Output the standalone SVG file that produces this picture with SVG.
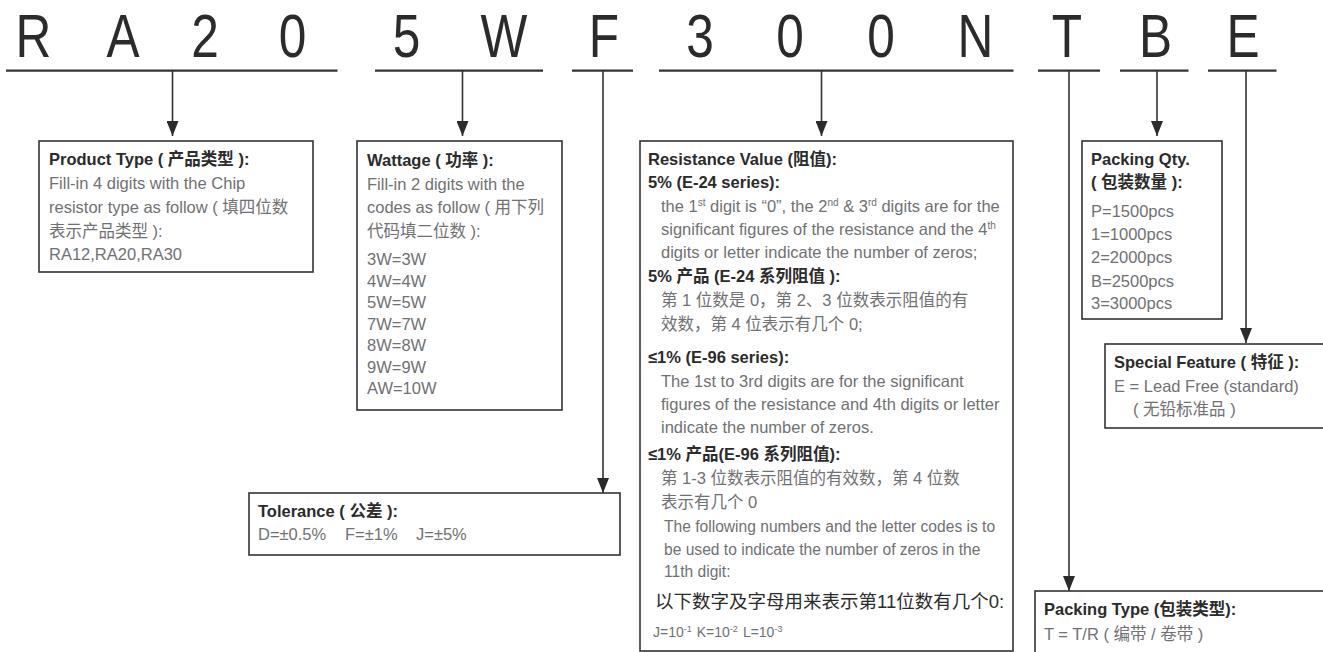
<svg xmlns="http://www.w3.org/2000/svg" width="1323" height="652" viewBox="0 0 1323 652">
<style>
.big{font-family:"Liberation Sans",sans-serif;font-size:62px;fill:#2b2b2b;text-anchor:middle}
.h{font-family:"Liberation Sans","Noto Sans CJK SC",sans-serif;font-size:16.5px;font-weight:bold;fill:#2b2b2b}
.b{font-family:"Liberation Sans","Noto Sans CJK SC",sans-serif;font-size:16.5px;fill:#707173}
.f{font-family:"Liberation Sans","Noto Sans CJK SC",sans-serif;font-size:15.6px;fill:#707173}
.d{font-family:"Liberation Sans","Noto Sans CJK SC",sans-serif;font-size:18.5px;fill:#2b2b2b}
.s{font-family:"Liberation Sans","Noto Sans CJK SC",sans-serif;font-size:14px;fill:#707173}
.box{fill:#fff;stroke:#333;stroke-width:1.6}
.ul{stroke:#333;stroke-width:2.2;fill:none}
.dr{stroke:#333;stroke-width:1.6;fill:none;marker-end:url(#ah)}
</style>
<defs>
<marker id="ah" viewBox="0 0 15 12" refX="15" refY="6" markerWidth="15" markerHeight="12" markerUnits="userSpaceOnUse" orient="auto">
<path d="M0,0 L15,6 L0,12 Z" fill="#2b2b2b"/>
</marker>
</defs>
<rect width="1323" height="652" fill="#fff"/>
<g id="code">
<text class="big" transform="translate(33.5,57.3) scale(0.8,1)">R</text>
<text class="big" transform="translate(123,57.3) scale(0.8,1)">A</text>
<text class="big" transform="translate(205,57.3) scale(0.8,1)">2</text>
<text class="big" transform="translate(292.5,57.3) scale(0.8,1)">0</text>
<text class="big" transform="translate(406.5,57.3) scale(0.8,1)">5</text>
<text class="big" transform="translate(504,57.3) scale(0.8,1)">W</text>
<text class="big" transform="translate(604,57.3) scale(0.8,1)">F</text>
<text class="big" transform="translate(700,57.3) scale(0.8,1)">3</text>
<text class="big" transform="translate(790,57.3) scale(0.8,1)">0</text>
<text class="big" transform="translate(881,57.3) scale(0.8,1)">0</text>
<text class="big" transform="translate(975.5,57.3) scale(0.8,1)">N</text>
<text class="big" transform="translate(1067,57.3) scale(0.8,1)">T</text>
<text class="big" transform="translate(1155.5,57.3) scale(0.8,1)">B</text>
<text class="big" transform="translate(1243,57.3) scale(0.8,1)">E</text>
</g>
<g id="connectors">
<line class="ul" x1="6" y1="70.7" x2="337.5" y2="70.7"/>
<line class="ul" x1="375" y1="70.7" x2="543" y2="70.7"/>
<line class="ul" x1="572" y1="70.7" x2="633" y2="70.7"/>
<line class="ul" x1="659" y1="70.7" x2="1013.5" y2="70.7"/>
<line class="ul" x1="1038" y1="70.7" x2="1100" y2="70.7"/>
<line class="ul" x1="1120" y1="70.7" x2="1188.5" y2="70.7"/>
<line class="ul" x1="1208" y1="70.7" x2="1276.5" y2="70.7"/>
<line class="dr" x1="172.5" y1="70.7" x2="172.5" y2="136"/>
<line class="dr" x1="462.5" y1="70.7" x2="462.5" y2="136"/>
<line class="dr" x1="603" y1="70.7" x2="603" y2="493"/>
<line class="dr" x1="821.5" y1="70.7" x2="821.5" y2="136"/>
<line class="dr" x1="1069" y1="70.7" x2="1069" y2="591"/>
<line class="dr" x1="1157" y1="70.7" x2="1157" y2="136"/>
<line class="dr" x1="1246" y1="70.7" x2="1246" y2="343"/>
</g>
<g id="product-type">
<rect class="box" x="39" y="141" width="274" height="131"/>
<text class="h" x="49" y="165">Product Type ( 产品类型 ):</text>
<text class="b" x="49" y="189">Fill-in 4 digits with the Chip</text>
<text class="b" x="49" y="212.5">resistor type as follow ( 填四位数</text>
<text class="b" x="49" y="236.5">表示产品类型 ):</text>
<text class="b" x="49" y="260">RA12,RA20,RA30</text>
</g>
<g id="wattage">
<rect class="box" x="357" y="141" width="205" height="269"/>
<text class="h" x="367" y="166">Wattage ( 功率 ):</text>
<text class="b" x="367" y="190">Fill-in 2 digits with the</text>
<text class="b" x="367" y="213">codes as follow ( 用下列</text>
<text class="b" x="367" y="237">代码填二位数 ):</text>
<text class="b" x="367" y="265">3W=3W</text>
<text class="b" x="367" y="286.5">4W=4W</text>
<text class="b" x="367" y="308">5W=5W</text>
<text class="b" x="367" y="329.5">7W=7W</text>
<text class="b" x="367" y="351">8W=8W</text>
<text class="b" x="367" y="372.5">9W=9W</text>
<text class="b" x="367" y="394">AW=10W</text>
</g>
<g id="tolerance">
<rect class="box" x="249" y="493" width="371" height="62"/>
<text class="h" x="258" y="517">Tolerance ( 公差 ):</text>
<text class="b" x="258" y="540">D=±0.5%<tspan x="345">F=±1%</tspan><tspan x="416">J=±5%</tspan></text>
</g>
<g id="resistance-value">
<rect class="box" x="640" y="141" width="373" height="510"/>
<text class="h" x="648" y="165">Resistance Value (阻值):</text>
<text class="h" x="648" y="188">5% (E-24 series):</text>
<text class="b" x="661" y="212">the 1<tspan font-size="10" dy="-6">st</tspan><tspan dy="6"> digit is “0”, the 2</tspan><tspan font-size="10" dy="-6">nd</tspan><tspan dy="6"> &amp; 3</tspan><tspan font-size="10" dy="-6">rd</tspan><tspan dy="6"> digits are for the</tspan></text>
<text class="b" x="661" y="235">significant figures of the resistance and the 4<tspan font-size="10" dy="-6">th</tspan></text>
<text class="b" x="661" y="258">digits or letter indicate the number of zeros;</text>
<text class="h" x="648" y="282">5% 产品 (E-24 系列阻值 ):</text>
<text class="b" x="661" y="306">第 1 位数是 0，第 2、3 位数表示阻值的有</text>
<text class="b" x="661" y="330">效数，第 4 位表示有几个 0;</text>
<text class="h" x="648" y="363">≤1% (E-96 series):</text>
<text class="b" x="661" y="387">The 1st to 3rd digits are for the significant</text>
<text class="b" x="661" y="410">figures of the resistance and 4th digits or letter</text>
<text class="b" x="661" y="433">indicate the number of zeros.</text>
<text class="h" x="648" y="460">≤1% 产品(E-96 系列阻值):</text>
<text class="b" x="661" y="484">第 1-3 位数表示阻值的有效数，第 4 位数</text>
<text class="b" x="661" y="508">表示有几个 0</text>
<text class="f" x="664" y="532">The following numbers and the letter codes is to</text>
<text class="f" x="664" y="555">be used to indicate the number of zeros in the</text>
<text class="f" x="664" y="577">11th digit:</text>
<text class="d" x="655" y="608">以下数字及字母用来表示第11位数有几个0:</text>
<text class="s" x="653" y="637">J=10<tspan font-size="9" dy="-5">-1</tspan><tspan dx="5" dy="5">K=10</tspan><tspan font-size="9" dy="-5">-2</tspan><tspan dx="5" dy="5">L=10</tspan><tspan font-size="9" dy="-5">-3</tspan></text>
</g>
<g id="packing-qty">
<rect class="box" x="1082" y="141" width="140" height="178"/>
<text class="h" x="1091" y="165">Packing Qty.</text>
<text class="h" x="1091" y="188">( 包装数量 ):</text>
<text class="b" x="1091" y="217">P=1500pcs</text>
<text class="b" x="1091" y="240">1=1000pcs</text>
<text class="b" x="1091" y="263">2=2000pcs</text>
<text class="b" x="1091" y="287">B=2500pcs</text>
<text class="b" x="1091" y="309">3=3000pcs</text>
</g>
<g id="special-feature">
<rect class="box" x="1105" y="344" width="230" height="84"/>
<text class="h" x="1114" y="368">Special Feature ( 特征 ):</text>
<text class="b" x="1114" y="392">E = Lead Free (standard)</text>
<text class="b" x="1133" y="415">( 无铅标准品 )</text>
</g>
<g id="packing-type">
<rect class="box" x="1035" y="591" width="300" height="80"/>
<text class="h" x="1044" y="615">Packing Type (包装类型):</text>
<text class="b" x="1044" y="640">T = T/R ( 编带 / 卷带 )</text>
</g>
</svg>
